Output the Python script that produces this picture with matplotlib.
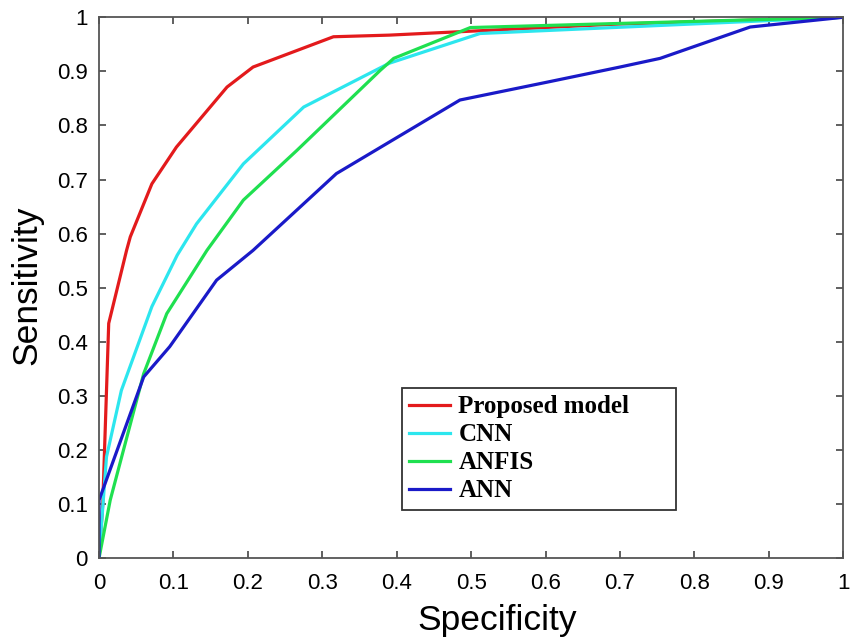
import matplotlib
matplotlib.use("Agg")
import matplotlib.pyplot as plt

# Data
labels = ["Proposed model", "CNN", "ANFIS", "ANN"]

prop_x = [0, 0.005, 0.013, 0.037, 0.042, 0.071, 0.104, 0.172, 0.207, 0.315, 0.39, 0.69, 1.0]
prop_y = [0, 0.10, 0.434, 0.569, 0.594, 0.692, 0.760, 0.871, 0.908, 0.964, 0.967, 0.987, 1.0]

cnn_x = [0, 0.010, 0.030, 0.071, 0.105, 0.131, 0.194, 0.275, 0.39, 0.512, 1.0]
cnn_y = [0, 0.187, 0.310, 0.465, 0.560, 0.618, 0.729, 0.834, 0.915, 0.970, 1.0]

anfis_x = [0, 0.015, 0.060, 0.091, 0.145, 0.194, 0.266, 0.378, 0.396, 0.499, 1.0]
anfis_y = [0, 0.107, 0.341, 0.452, 0.569, 0.662, 0.754, 0.902, 0.924, 0.981, 1.0]

ann_x = [0, 0, 0.060, 0.095, 0.158, 0.207, 0.319, 0.391, 0.485, 0.602, 0.700, 0.754, 0.875, 1.0]
ann_y = [0, 0.107, 0.335, 0.391, 0.514, 0.569, 0.711, 0.770, 0.847, 0.880, 0.908, 0.924, 0.982, 1.0]

colors = ["#e31a1c", "#2ce6ee", "#1fe050", "#1a1ac8"]

xticks = [0, 0.1, 0.2, 0.3, 0.4, 0.5, 0.6, 0.7, 0.8, 0.9, 1]
tick_labels = ["0", "0.1", "0.2", "0.3", "0.4", "0.5", "0.6", "0.7", "0.8", "0.9", "1"]

plt.rcParams['font.family'] = ['Liberation Sans', 'DejaVu Sans']

fig = plt.figure(figsize=(8.56, 6.4), dpi=100)
ax = fig.add_axes([0.1157, 0.128, 0.8693, 0.845])

series = [(prop_x, prop_y), (cnn_x, cnn_y), (anfis_x, anfis_y), (ann_x, ann_y)]
for (xs, ys), c, lab in zip(series, colors, labels):
    ax.plot(xs, ys, color=c, lw=2.3, label=lab, solid_joinstyle='round')

ax.set_xlim(0, 1)
ax.set_ylim(0, 1)
ax.set_xticks(xticks)
ax.set_xticklabels(tick_labels)
ax.set_yticks(xticks)
ax.set_yticklabels(tick_labels)
ax.tick_params(direction='in', top=True, right=True, length=5, width=1.2,
               color='#444444', labelsize=16)
ax.tick_params(axis='x', pad=11)
ax.tick_params(axis='y', pad=8)
for s in ax.spines.values():
    s.set_color('#555555')
    s.set_linewidth(1.3)

ax.set_xlabel("Specificity", fontsize=25.5)
ax.xaxis.set_label_coords(0.535, -0.085, transform=ax.transAxes)
ax.set_ylabel("Sensitivity", fontsize=25.5)
ax.yaxis.set_label_coords(-0.075, 0.505, transform=ax.transAxes)

leg = ax.legend(loc='lower left', bbox_to_anchor=(0.407, 0.089, 0.368, 0.236),
                mode='expand', fancybox=False,
                prop={'family': 'Liberation Serif', 'weight': 'bold', 'size': 18},
                handlelength=1.64, handletextpad=0.32, labelspacing=0.2,
                borderpad=0.3, borderaxespad=0)
leg.get_frame().set_edgecolor('#333333')
leg.get_frame().set_linewidth(1.3)
leg.get_frame().set_alpha(1)

fig.savefig("out.png", dpi=100)
